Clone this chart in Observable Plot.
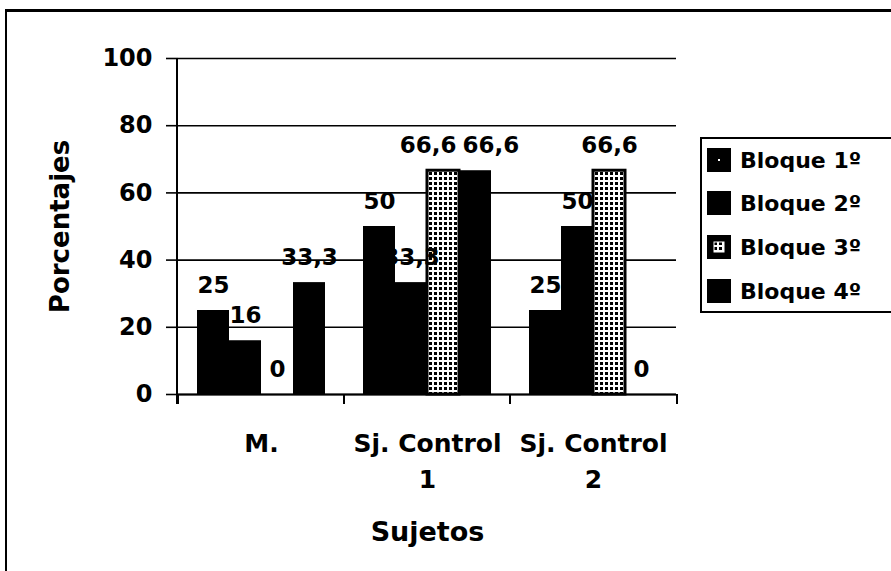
<!DOCTYPE html>
<html>
<head>
<meta charset="utf-8">
<script src="https://cdn.jsdelivr.net/npm/d3@7"></script>
<script src="https://cdn.jsdelivr.net/npm/@observablehq/plot@0.6"></script>
<style>
  body { margin: 0; background: #fff; }
  #wrap { position: relative; width: 891px; height: 571px; overflow: hidden; font-family: "DejaVu Sans", sans-serif; font-weight: bold; color: #000; }
  #frame { position: absolute; left: 5px; top: 9px; width: 950px; height: 650px; border-top: 3px solid #000; border-left: 2px solid #000; box-sizing: border-box; }
  #chart { position: absolute; left: 0; top: 0; }
  #legend { position: absolute; left: 700px; top: 137px; width: 230px; height: 176px; border: 2px solid #000; box-sizing: border-box; background: #fff; }
  .item { position: absolute; left: 5px; height: 24px; display: flex; align-items: center; font-size: 22px; white-space: nowrap; }
  .item svg { margin-right: 9px; flex: none; }
</style>
</head>
<body>
<svg width="0" height="0" style="position:absolute">
  <defs>
    <pattern id="grid3" patternUnits="userSpaceOnUse" width="5" height="5">
      <rect width="5" height="5" fill="#fff"></rect>
      <rect x="2" y="2" width="3" height="3" fill="#000"></rect>
    </pattern>
  </defs>
</svg>
<div id="wrap">
  <div id="frame"></div>
  <div id="chart"></div>
  <div id="legend"></div>
</div>
<script>
// ---- data ----
const sujetos = ["M.", "Sj. Control 1", "Sj. Control 2"];
const bloques = ["Bloque 1º", "Bloque 2º", "Bloque 3º", "Bloque 4º"];
const valoresM = [25, 16, 0, 33.3];
const valoresControl1 = [50, 33.3, 66.6, 66.6];
const valoresControl2 = [25, 50, 66.6, 0];
const yTicks = [0, 20, 40, 60, 80, 100];

const series = [valoresM, valoresControl1, valoresControl2];
const data = [];
sujetos.forEach((s, i) => bloques.forEach((b, j) => data.push({sujeto: s, bloque: b, valor: series[i][j]})));

const fills = ["#000", "#000", "url(#grid3)", "#000"];
const fmt = v => String(v).replace(".", ",");

const plot = Plot.plot({
  width: 891,
  height: 571,
  marginLeft: 177,
  marginRight: 214,
  marginTop: 58,
  marginBottom: 177,
  style: {fontFamily: "DejaVu Sans, sans-serif", fontWeight: "bold", background: "transparent", color: "#000"},
  fx: {domain: sujetos, padding: 0},
  x: {domain: bloques, paddingInner: 0, paddingOuter: 0.55, axis: null},
  y: {domain: [0, 100]},
  color: {domain: bloques, range: fills},
  marks: [
    Plot.gridY(yTicks, {stroke: "#000", strokeOpacity: 1, strokeWidth: 1.6}),
    Plot.barY(data, {fx: "sujeto", x: "bloque", y: "valor", fill: "bloque", insetLeft: 0, insetRight: 0}),
    Plot.barY(data.filter(d => d.bloque === bloques[2] && d.valor > 0), {fx: "sujeto", x: "bloque", y: "valor", fill: "none", stroke: "#000", strokeWidth: 3}),
    Plot.ruleY([0], {stroke: "#000", strokeWidth: 2}),
    Plot.text(data, {fx: "sujeto", x: "bloque", y: "valor", text: d => fmt(d.valor), dy: -25, fontSize: 23, fontWeight: "bold", fill: "#000"}),
    Plot.axisY({ticks: yTicks, tickSize: 12, tickPadding: 14, fontSize: 24, fontWeight: "bold", stroke: "#000", strokeWidth: 1.6, label: null}),
    Plot.axisY({ticks: [], tickSize: 0, fontSize: 26, fontWeight: "bold",
      label: "Porcentajes", labelAnchor: "center", labelOffset: 128, labelArrow: "none"}),
    Plot.axisFx({anchor: "bottom", tickSize: 0, tickPadding: 32, fontSize: 25, fontWeight: "bold", lineHeight: 1.45,
      tickFormat: d => d.replace(/ (\d)$/, "\n$1"), label: null}),
    Plot.axisFx({anchor: "bottom", ticks: [], tickSize: 0, fontSize: 27, fontWeight: "bold",
      label: "Sujetos", labelAnchor: "center", labelOffset: 146, labelArrow: "none"})
  ]
});

// axis line and category boundary ticks, from the plot's own scales
const fx = plot.scale("fx");
const y = plot.scale("y");
const svg = d3.select(plot);
const y0 = y.apply(0), y100 = y.apply(100);
const xLeft = fx.range[0];
const g = svg.append("g").attr("stroke", "#000").attr("stroke-width", 2);
g.append("line").attr("x1", xLeft).attr("x2", xLeft).attr("y1", y100).attr("y2", y0 + 10);
const bounds = sujetos.map(s => fx.apply(s)).concat([fx.range[1]]);
bounds.forEach(bx => g.append("line").attr("x1", bx).attr("x2", bx).attr("y1", y0).attr("y2", y0 + 10));

document.getElementById("chart").appendChild(plot);

// push apart value labels that would collide (as the spreadsheet does)
const labelTexts = new Set(data.map(d => fmt(d.valor)));
const labels = Array.from(plot.querySelectorAll('g[aria-label="text"] text'))
  .filter(t => labelTexts.has(t.textContent));
const shifts = labels.map(() => 0);
for (let iter = 0; iter < 6; iter++) {
  const rects = labels.map(t => t.getBoundingClientRect());
  let moved = false;
  for (let i = 0; i < labels.length; i++) {
    for (let j = i + 1; j < labels.length; j++) {
      const a = rects[i], b = rects[j];
      const cyA = (a.top + a.bottom) / 2, cyB = (b.top + b.bottom) / 2;
      if (Math.abs(cyA - cyB) > 14) continue;
      const L = a.left <= b.left ? a : b, R = L === a ? b : a;
      const o = L.right + 6 - R.left;
      if (o > 0 && R.right > L.left) {
        const li = L === a ? i : j, ri = L === a ? j : i;
        shifts[li] -= o / 2; shifts[ri] += o / 2; moved = true;
      }
    }
  }
  labels.forEach((t, k) => t.setAttribute("dx", shifts[k]));
  if (!moved) break;
}

// legend
const legend = d3.select("#legend");
const tops = [9, 52, 96, 140];
bloques.forEach((b, i) => {
  const it = legend.append("div").attr("class", "item").style("top", tops[i] + "px");
  const s = it.append("svg").attr("width", 24).attr("height", 24);
  s.append("rect").attr("width", 24).attr("height", 24).attr("fill", "#000");
  if (i === 2) {
    s.append("rect").attr("x", 7).attr("y", 7).attr("width", 10).attr("height", 10).attr("fill", "url(#grid3)").attr("stroke", "#fff").attr("stroke-width", 1);
  }
  if (i === 0) {
    s.append("rect").attr("x", 11).attr("y", 11).attr("width", 2).attr("height", 2).attr("fill", "#fff");
  }
  it.append("span").text(b);
});
</script>
</body>
</html>
